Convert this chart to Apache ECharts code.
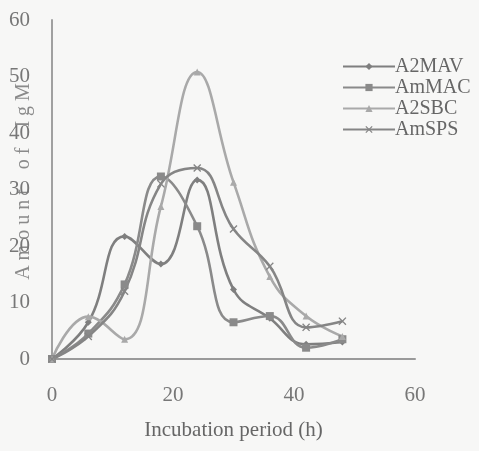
<!DOCTYPE html>
<html>
<head>
<meta charset="utf-8">
<script src="https://cdn.jsdelivr.net/npm/echarts@6/dist/echarts.min.js"></script>
<style>
html,body{margin:0;padding:0;background:#f7f7f6;}
#chart{width:479px;height:451px;}
</style>
</head>
<body>
<div id="chart"></div>
<script>
var hours = [0, 6, 12, 18, 24, 30, 36, 42, 48];
var seriesNames = ['A2MAV', 'AmMAC', 'A2SBC', 'AmSPS'];
var a2mav = [0, 6.5, 21.7, 16.8, 31.7, 12.3, 7.2, 2.6, 3.0];
var ammac = [0, 4.5, 13.2, 32.3, 23.5, 6.5, 7.6, 2.0, 3.5];
var a2sbc = [0, 7.5, 3.5, 27.0, 50.8, 31.3, 14.6, 7.6, 4.0];
var amsps = [0, 4.0, 12.0, 31.0, 33.8, 23.0, 16.4, 5.6, 6.7];
var xTicks = [0, 20, 40, 60];
var yTicks = [0, 10, 20, 30, 40, 50, 60];

var xMark = 'path://M0,1.2L1.2,0L5,3.8L8.8,0L10,1.2L6.2,5L10,8.8L8.8,10L5,6.2L1.2,10L0,8.8L3.8,5Z';
var styles = [
  {color: '#7f7f7f', symbol: 'diamond', size: 7},
  {color: '#8a8a8a', symbol: 'rect', size: 8},
  {color: '#a9a9a9', symbol: 'triangle', size: 7},
  {color: '#858585', symbol: xMark, size: 8}
];
var values = [a2mav, ammac, a2sbc, amsps];

function pairs(v) { return hours.map(function (h, i) { return [h, v[i]]; }); }

var serif = '"Liberation Serif", "DejaVu Serif", serif';
var chart = echarts.init(document.getElementById('chart'));
chart.setOption({
  backgroundColor: '#f7f7f6',
  animation: false,
  grid: {left: 52, right: 64, top: 20, bottom: 92, containLabel: false, outerBoundsMode: 'none'},
  legend: {
    orient: 'vertical',
    left: 337,
    top: 51,
    itemGap: 0,
    itemWidth: 52,
    itemHeight: 9,
    textStyle: {fontFamily: serif, fontSize: 20, lineHeight: 21, color: '#666', padding: [0, 0, 0, -5]},
    data: seriesNames
  },
  xAxis: {
    type: 'value',
    min: xTicks[0],
    max: xTicks[xTicks.length - 1],
    interval: 20,
    name: 'Incubation period (h)',
    nameLocation: 'middle',
    nameGap: 61,
    nameMoveOverlap: false,
    nameTextStyle: {fontFamily: serif, fontSize: 21, color: '#666'},
    axisLine: {lineStyle: {color: '#9a9a9a', width: 2}},
    axisTick: {show: false},
    splitLine: {show: false},
    axisLabel: {fontFamily: serif, fontSize: 21, color: '#777', margin: 26}
  },
  yAxis: {
    type: 'value',
    min: yTicks[0],
    max: yTicks[yTicks.length - 1],
    interval: 10,
    name: 'A m o u n t    o f    I g M',
    nameLocation: 'middle',
    nameRotate: 90,
    nameGap: 18,
    nameMoveOverlap: false,
    nameTextStyle: {fontFamily: serif, fontSize: 20, color: '#8a8a8a', padding: [0, 0, 0, 16]},
    axisLine: {show: true, lineStyle: {color: '#a0a0a0', width: 2}},
    axisTick: {show: false},
    splitLine: {show: false},
    axisLabel: {fontFamily: serif, fontSize: 21, color: '#777', margin: 22}
  },
  series: seriesNames.map(function (n, i) {
    return {
      name: n,
      type: 'line',
      smooth: 0.45,
      data: pairs(values[i]),
      symbol: styles[i].symbol,
      symbolSize: styles[i].size,
      showAllSymbol: true,
      lineStyle: {color: styles[i].color, width: 2.6},
      itemStyle: {color: styles[i].color}
    };
  })
});
</script>
</body>
</html>
